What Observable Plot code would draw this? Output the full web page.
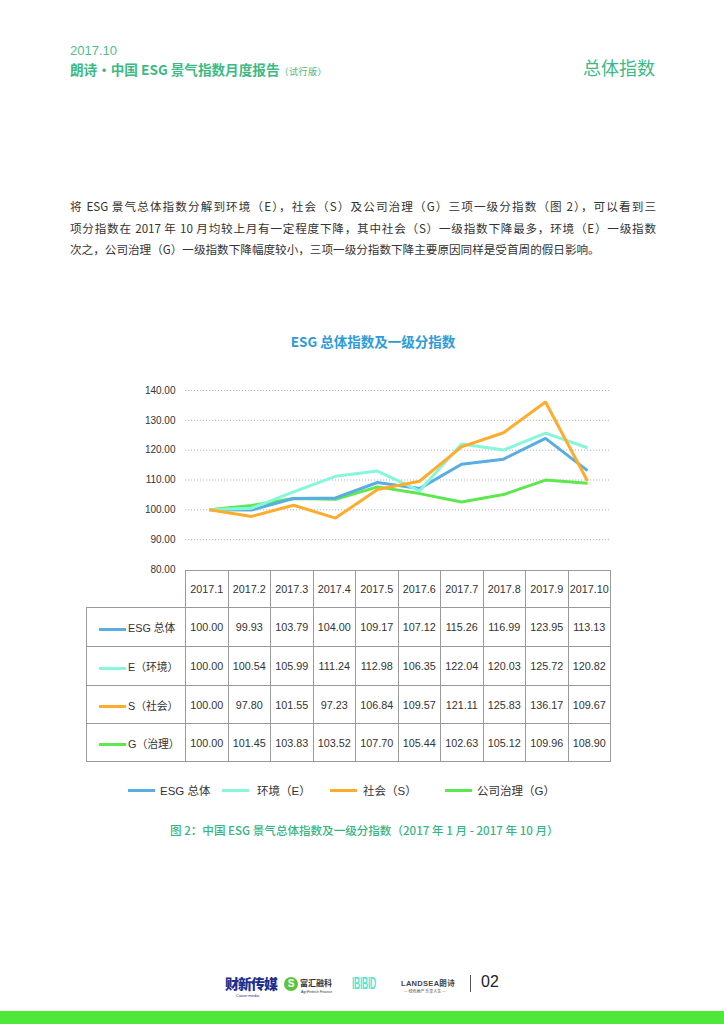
<!DOCTYPE html>
<html><head><meta charset="utf-8">
<script src="https://cdn.jsdelivr.net/npm/d3@7"></script>
<script src="https://cdn.jsdelivr.net/npm/@observablehq/plot@0.6"></script>
<style>
html,body{margin:0;padding:0;background:#fff;}
#page{position:relative;width:724px;height:1024px;overflow:hidden;font-family:"Liberation Sans","Noto Sans CJK SC",sans-serif;color:#333;}
.abs{position:absolute;white-space:nowrap;}
.cjk{font-family:"Noto Sans CJK SC",sans-serif;}
#para{position:absolute;left:70px;top:196px;width:586px;font-family:"Noto Sans CJK SC",sans-serif;font-size:11.6px;color:#333;line-height:21.5px;}
#para div{text-align:justify;text-align-last:justify;white-space:nowrap;}
#para div.last{text-align-last:left;}
#tbl{position:absolute;left:86px;top:570px;border-collapse:collapse;table-layout:fixed;width:524px;font-family:"Liberation Sans","Noto Sans CJK SC",sans-serif;font-size:10.8px;color:#333;}
#tbl td{border:1px solid #9a9a9a;text-align:center;padding:0;overflow:hidden;white-space:nowrap;}
#tbl td.blank{border-top:none;border-left:none;}
.sw{display:inline-block;width:27px;height:3px;vertical-align:middle;margin-right:2px;}
</style></head>
<body><div id="page">
<div class="abs" style="left:70px;top:43px;font-size:13px;color:#4cbf8b;">2017.10</div>
<div class="abs cjk" style="left:70px;top:60px;font-size:13.6px;font-weight:700;color:#3cba85;line-height:18px;">朗诗·中国 ESG 景气指数月度报告<span style="font-size:9px;font-weight:400;letter-spacing:0.5px;">（试行版）</span></div>
<div class="abs cjk" style="left:583px;top:54px;font-size:18px;color:#3cba85;">总体指数</div>
<div id="para">
<div>将 ESG 景气总体指数分解到环境（E），社会（S）及公司治理（G）三项一级分指数（图 2），可以看到三</div>
<div>项分指数在 2017 年 10 月均较上月有一定程度下降，其中社会（S）一级指数下降最多，环境（E）一级指数</div>
<div class="last">次之，公司治理（G）一级指数下降幅度较小，三项一级分指数下降主要原因同样是受首周的假日影响。</div>
</div>
<div class="abs cjk" style="left:0;width:746px;text-align:center;top:331px;font-size:13.5px;font-weight:700;color:#2e9bd7;">ESG 总体指数及一级分指数</div>
<div id="chart" style="position:absolute;left:0;top:370px;"></div>
<table id="tbl"></table>
<div id="legend"></div>
<div class="abs cjk" style="left:170px;top:822px;font-size:11.5px;font-weight:500;color:#34b584;letter-spacing:0.05px;">图 2：中国 ESG 景气总体指数及一级分指数（2017 年 1 月 - 2017 年 10 月）</div>
<div class="abs cjk" style="left:225px;top:976px;font-size:14px;line-height:15px;font-weight:900;color:#1d2f8e;letter-spacing:-1px;">财新传媒</div>
<div class="abs" style="left:236px;top:993px;font-size:4px;line-height:5px;color:#1d2f8e;">Caixin media</div>
<div class="abs" style="left:284px;top:977px;width:14px;height:14px;border-radius:7px;background:#5bc43a;color:#fff;font-size:10px;font-weight:700;text-align:center;line-height:14px;">S</div>
<div class="abs cjk" style="left:300px;top:978px;font-size:8px;line-height:10px;font-weight:700;color:#333;">富汇融科</div>
<div class="abs" style="left:301px;top:990px;font-size:3.5px;line-height:4px;color:#333;">AgriFintech Finance</div>
<div class="abs" style="left:352px;top:976px;font-size:17px;line-height:16px;font-weight:900;color:#4de8d6;letter-spacing:-0.5px;transform:scaleX(0.5);transform-origin:left center;">IBIBID</div>
<div class="abs" style="left:401px;top:978px;font-size:7.5px;line-height:9px;font-weight:700;color:#444;letter-spacing:0.3px;">LANDSEA<span class="cjk">朗诗</span></div>
<div class="abs cjk" style="left:404px;top:989px;font-size:4px;line-height:5px;color:#444;">— 绿色地产 乐享人生 —</div>
<div class="abs" style="left:470px;top:975px;width:1px;height:17px;background:#555;"></div>
<div class="abs" style="left:481px;top:973px;font-size:16px;color:#222;">02</div>
<div class="abs" style="left:0;top:1011px;width:724px;height:13px;background:#4de83a;"></div>
</div>
<script>
const months = ["2017.1","2017.2","2017.3","2017.4","2017.5","2017.6","2017.7","2017.8","2017.9","2017.10"];
const esgTotal = [100.00, 99.93, 103.79, 104.00, 109.17, 107.12, 115.26, 116.99, 123.95, 113.13];
const envE = [100.00, 100.54, 105.99, 111.24, 112.98, 106.35, 122.04, 120.03, 125.72, 120.82];
const socS = [100.00, 97.80, 101.55, 97.23, 106.84, 109.57, 121.11, 125.83, 136.17, 109.67];
const govG = [100.00, 101.45, 103.83, 103.52, 107.70, 105.44, 102.63, 105.12, 109.96, 108.90];
const legendNames = ["ESG 总体","环境（E）","社会（S）","公司治理（G）"];
const rowLabels = ["ESG 总体","E（环境）","S（社会）","G（治理）"];
const seriesColors = ["#5aade2","#86f6dc","#ffab2c","#5de84f"];
const yTicks = [80, 90, 100, 110, 120, 130, 140];
const gridTicks = [90, 100, 110, 120, 130, 140];

const seriesValues = [esgTotal, envE, socS, govG];
const rows = seriesValues.map((vals, i) => vals.map((v, j) => ({month: months[j], value: v, series: legendNames[i]})));
const drawOrder = [3, 0, 1, 2];

const chart = Plot.plot({
  width: 724, height: 209,
  marginLeft: 185, marginRight: 114, marginTop: 20, marginBottom: 10,
  style: {fontFamily: "Liberation Sans, Arial, sans-serif", fontSize: "10px", color: "#333", background: "transparent", overflow: "visible"},
  x: {type: "point", domain: months, padding: 0.5, axis: null},
  y: {domain: [80, 140], axis: null},
  marks: [
    Plot.ruleY(gridTicks, {stroke: "#b5b5b5", strokeWidth: 1, strokeDasharray: "1.2,1.8"}),
    Plot.axisY({ticks: yTicks, tickFormat: d => d.toFixed(2), tickSize: 0, tickPadding: 10, label: null, fontSize: 10}),
    ...drawOrder.map(i => Plot.line(rows[i], {x: "month", y: "value", stroke: seriesColors[i], strokeWidth: 3, strokeLinejoin: "miter", strokeLinecap: "butt"}))
  ]
});
document.getElementById("chart").appendChild(chart);

// table
const tbl = document.getElementById("tbl");
let html = '<colgroup><col style="width:99px">' + months.map(() => '<col style="width:42.5px">').join("") + '</colgroup>';
html += '<tr style="height:37px"><td class="blank"></td>' + months.map(m => `<td>${m}</td>`).join("") + '</tr>';
const rowH = [39, 39, 38, 38];
seriesValues.forEach((vals, i) => {
  html += `<tr style="height:${rowH[i]}px"><td style="text-align:left;padding-left:12px;"><span class="sw" style="background:${seriesColors[i]}"></span><span style="font-family:'Liberation Sans','Noto Sans CJK SC';">${rowLabels[i]}</span></td>` +
    vals.map(v => `<td>${v.toFixed(2)}</td>`).join("") + '</tr>';
});
tbl.innerHTML = html;

// legend
const legendX = [128, 222, 330, 445];
const textX = [160, 257, 363, 477];
const leg = document.getElementById("legend");
legendNames.forEach((name, i) => {
  const s = document.createElement("div");
  s.className = "abs";
  s.style.cssText = `left:${legendX[i]}px;top:789px;width:27px;height:3px;background:${seriesColors[i]};`;
  leg.appendChild(s);
  const t = document.createElement("div");
  t.className = "abs";
  t.style.cssText = `left:${textX[i]}px;top:782px;font-size:11.5px;color:#333;font-family:'Liberation Sans','Noto Sans CJK SC';`;
  t.textContent = name;
  leg.appendChild(t);
});
</script>
</body></html>
